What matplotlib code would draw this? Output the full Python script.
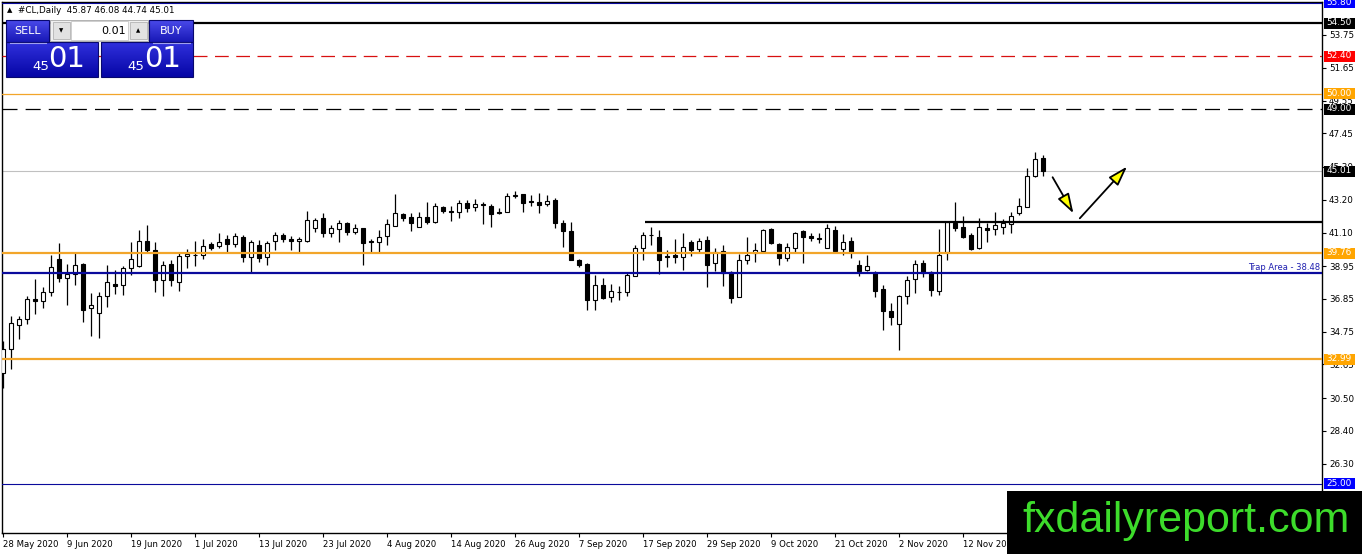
import matplotlib
matplotlib.use("Agg")
import matplotlib.pyplot as plt
import matplotlib.transforms as mtransforms
import matplotlib.colors as mcolors
from matplotlib.patches import Rectangle, FancyArrowPatch
import numpy as np

# ---------------- data ----------------
opens = [32.11, 33.65, 35.18, 35.56, 36.86, 36.71, 37.27, 39.42, 38.18, 38.46,
         39.10, 36.25, 35.95, 37.01, 37.82, 37.73, 38.82, 38.93, 40.56, 39.99,
         38.03, 39.10, 37.92, 39.58, 39.67, 39.67, 40.35, 40.25, 40.69, 40.39,
         40.80, 39.52, 40.29, 39.56, 40.56, 40.95, 40.69, 40.58, 40.58, 41.42,
         42.01, 41.05, 41.33, 41.69, 41.16, 41.37, 40.56, 40.48, 40.90, 41.54,
         42.27, 42.07, 41.44, 42.07, 41.80, 42.71, 42.50, 42.39, 43.01, 42.76,
         42.93, 42.80, 42.39, 42.44, 43.44, 43.57, 43.10, 43.05, 42.93, 43.18,
         41.73, 41.20, 39.31, 39.07, 36.75, 37.75, 36.94, 37.31, 37.27, 38.29,
         40.10, 40.97, 40.80, 39.61, 39.67, 39.56, 40.52, 40.03, 40.63, 39.14,
         39.92, 38.56, 36.94, 39.31, 39.78, 39.93, 41.33, 40.35, 39.50, 40.14,
         41.20, 40.86, 40.74, 40.14, 41.27, 40.05, 40.56, 38.99, 38.71, 38.50,
         37.50, 36.09, 35.24, 37.05, 38.12, 39.14, 38.56, 37.33, 39.88, 41.73,
         41.48, 40.95, 40.14, 41.37, 41.31, 41.48, 41.63, 42.37, 42.76, 44.74,
         45.87]
highs = [34.14, 35.77, 35.77, 37.05, 38.14, 37.58, 39.67, 40.46, 39.10, 39.82,
         39.14, 37.22, 37.27, 39.03, 38.71, 38.93, 40.50, 41.27, 41.59, 40.52,
         39.25, 39.35, 39.88, 40.03, 40.56, 40.69, 40.52, 41.05, 40.95, 41.05,
         40.95, 40.63, 40.63, 40.58, 41.16, 41.10, 40.88, 40.84, 42.48, 42.05,
         42.33, 41.59, 41.91, 41.76, 41.63, 41.42, 40.67, 41.27, 41.95, 43.57,
         42.37, 42.33, 42.39, 43.03, 43.01, 42.82, 42.80, 43.18, 43.18, 43.22,
         43.03, 42.93, 42.65, 43.61, 43.78, 43.57, 43.50, 43.65, 43.50, 43.29,
         41.90, 41.80, 39.39, 39.18, 38.39, 38.16, 37.82, 37.65, 38.50, 40.31,
         41.16, 41.44, 41.27, 39.95, 40.67, 41.05, 40.59, 40.74, 40.90, 40.10,
         40.27, 38.65, 39.71, 40.84, 40.42, 41.33, 41.42, 40.42, 40.42, 41.16,
         41.27, 41.05, 41.05, 41.63, 41.54, 40.99, 40.84, 39.35, 39.67, 38.65,
         37.75, 36.58, 37.12, 38.29, 39.35, 39.35, 38.61, 41.33, 41.84, 43.03,
         42.18, 41.05, 42.05, 41.69, 42.44, 41.97, 42.44, 43.33, 45.20, 46.23,
         46.08]
lows = [31.16, 32.37, 34.28, 35.22, 35.86, 36.29, 37.01, 37.90, 36.46, 37.76,
        35.35, 34.46, 34.35, 36.31, 37.16, 37.10, 38.37, 38.88, 39.88, 37.27,
        37.01, 37.69, 37.37, 38.82, 38.97, 39.42, 40.01, 40.10, 39.82, 40.20,
        39.24, 38.48, 39.24, 39.03, 39.99, 40.48, 39.99, 39.84, 40.52, 41.16,
        40.84, 40.84, 40.52, 40.95, 41.01, 39.03, 39.82, 39.82, 40.31, 41.54,
        41.86, 41.22, 41.44, 41.63, 41.69, 42.33, 41.86, 42.05, 42.39, 42.50,
        41.63, 41.48, 42.27, 42.39, 43.29, 42.44, 42.80, 42.33, 42.80, 41.37,
        40.20, 39.31, 38.88, 36.16, 36.16, 36.84, 36.63, 36.75, 37.01, 38.29,
        39.35, 40.31, 38.46, 38.88, 39.18, 38.71, 39.61, 39.78, 37.58, 38.61,
        37.65, 36.58, 36.94, 39.07, 39.24, 39.88, 40.35, 38.99, 39.29, 39.78,
        39.14, 40.56, 40.42, 40.10, 39.88, 39.67, 39.50, 38.29, 38.61, 36.95,
        34.88, 35.16, 33.60, 36.52, 37.22, 38.22, 37.01, 37.07, 39.35, 41.20,
        40.73, 39.99, 40.05, 40.52, 40.95, 40.99, 41.05, 42.22, 42.76, 44.67,
        44.74]
closes = [33.65, 35.31, 35.56, 36.84, 36.71, 37.31, 38.90, 38.18, 38.44, 39.03,
          36.16, 36.46, 37.05, 37.95, 37.65, 38.82, 39.40, 40.56, 39.95, 38.03,
          39.03, 38.07, 39.61, 39.71, 39.63, 40.25, 40.10, 40.52, 40.39, 40.88,
          39.52, 40.52, 39.50, 40.42, 40.95, 40.67, 40.58, 40.69, 41.91, 41.91,
          41.05, 41.37, 41.69, 41.12, 41.37, 40.42, 40.52, 40.84, 41.63, 42.33,
          42.05, 41.69, 42.12, 41.80, 42.80, 42.50, 42.42, 43.01, 42.69, 42.93,
          42.88, 42.27, 42.37, 43.44, 43.50, 43.01, 43.05, 42.86, 43.12, 41.73,
          41.22, 39.35, 39.03, 36.75, 37.73, 36.90, 37.37, 37.27, 38.35, 40.10,
          40.93, 40.93, 39.31, 39.52, 39.52, 40.20, 39.99, 40.56, 39.03, 39.88,
          38.50, 36.90, 39.35, 39.67, 39.99, 41.27, 40.42, 39.46, 40.16, 41.05,
          40.84, 40.78, 40.67, 41.42, 39.93, 40.52, 39.84, 38.65, 38.94, 37.33,
          36.05, 35.67, 37.05, 38.07, 39.07, 38.50, 37.39, 39.67, 41.80, 41.37,
          40.84, 40.05, 41.48, 41.29, 41.59, 41.69, 42.16, 42.80, 44.74, 45.80,
          45.01]

date_labels = ["28 May 2020", "9 Jun 2020", "19 Jun 2020", "1 Jul 2020",
               "13 Jul 2020", "23 Jul 2020", "4 Aug 2020", "14 Aug 2020",
               "26 Aug 2020", "7 Sep 2020", "17 Sep 2020", "29 Sep 2020",
               "9 Oct 2020", "21 Oct 2020", "2 Nov 2020", "12 Nov 2020"]
date_label_bars = [0, 8, 16, 24, 32, 40, 48, 56, 64, 72, 80, 88, 96, 104, 112, 120]

price_ticks = [53.75, 51.65, 49.55, 47.45, 45.30, 43.20, 41.10, 38.95,
               36.85, 34.75, 32.65, 30.50, 28.40, 26.30]

# horizontal levels
level_top = 55.80
level_resist_high = 54.50
level_red = 52.40
level_50 = 50.00
level_49 = 49.00
level_current = 45.01
level_resist = 41.75
level_resist_start_bar = 80.25
level_orange_mid = 39.76
level_trap = 38.48
level_orange_low = 32.99
level_bottom = 25.00

# drawn arrows (bar index, price): start1, end1, start2, end2
arrow_x = [131.2, 133.8, 134.6, 140.5]
arrow_y = [44.64, 42.33, 42.01, 45.32]

header_symbol = "#CL,Daily"
header_ohlc = [45.87, 46.08, 44.74, 45.01]
lot_size = "0.01"
bid_big, bid_small = "01", "45"
ask_big, ask_small = "01", "45"
watermark = "fxdailyreport.com"

# ---------------- figure ----------------
W, H = 1362, 554
fig = plt.figure(figsize=(W / 100, H / 100), dpi=100)
fig.patch.set_facecolor("white")
ax = fig.add_axes([2 / W, (H - 533) / H, 1320 / W, 531 / H])
ax.set_facecolor("white")
ax.set_xlim(-0.125, 164.875)
ax.set_ylim(21.86, 55.86)

n = len(opens)
xs = np.arange(n)
o = np.array(opens)
c = np.array(closes)
hi = np.array(highs)
lo = np.array(lows)
bull = c >= o
bottoms = np.minimum(o, c)
heights = np.maximum(np.abs(c - o), 0.03)

ax.vlines(xs, lo, hi, color="black", lw=0.9, zorder=3)
ax.bar(xs[bull], heights[bull], bottom=bottoms[bull], width=0.62,
       color="white", edgecolor="black", linewidth=0.8, zorder=4)
ax.bar(xs[~bull], heights[~bull], bottom=bottoms[~bull], width=0.62,
       color="black", edgecolor="black", linewidth=0.8, zorder=4)

navy = "#0a0a9c"
orange = "#f2a52a"
ax.axhline(level_top, color=navy, lw=0.8, zorder=5)
ax.axhline(level_resist_high, color="black", lw=1.6, zorder=5)
ax.axhline(level_red, color="#d81010", lw=0.9, ls=(0, (11, 6)), zorder=5)
ax.axhline(level_50, color=orange, lw=0.9, zorder=5)
ax.axhline(level_49, color="black", lw=0.9, ls=(0, (12, 6.5)), zorder=5)
ax.axhline(level_current, color="#c0c0c0", lw=0.8, zorder=2)
ax.hlines(level_resist, level_resist_start_bar, 164.875, color="black", lw=1.6, zorder=5)
ax.axhline(level_orange_mid, color=orange, lw=1.6, zorder=5)
ax.axhline(level_trap, color=navy, lw=1.6, zorder=5)
ax.axhline(level_orange_low, color=orange, lw=1.6, zorder=5)
ax.axhline(level_bottom, color=navy, lw=0.8, zorder=5)

blend = mtransforms.blended_transform_factory(ax.transAxes, ax.transData)
ax.text(0.9985, 38.83, "Trap Area - %.2f" % level_trap, transform=blend,
        ha="right", va="center", fontsize=6, color="#2020b0", zorder=6)

# arrows
for k in (0, 2):
    arr = FancyArrowPatch((arrow_x[k], arrow_y[k]), (arrow_x[k + 1], arrow_y[k + 1]),
                          arrowstyle="-|>,head_length=1.0,head_width=0.32",
                          mutation_scale=12, lw=1.3, edgecolor="black",
                          facecolor="#ffff00", zorder=8, shrinkA=0, shrinkB=0)
    ax.add_patch(arr)

# axes styling
for sp in ax.spines.values():
    sp.set_color("black")
    sp.set_linewidth(1.0)
ax.yaxis.tick_right()
ax.set_yticks(price_ticks)
ax.set_yticklabels(["%.2f" % v for v in price_ticks], fontsize=6.3)
ax.tick_params(axis="y", direction="out", length=3, width=0.8, pad=2, colors="black")
ax.set_xticks(date_label_bars)
ax.set_xticklabels(date_labels, fontsize=6.1, ha="left")
ax.tick_params(axis="x", direction="out", length=3, width=0.8, pad=2)

# price boxes on right axis
bw = 31 / 1320
bh = 11 * 0.06403
box_specs = [(level_top, "#0000ff"), (level_resist_high, "black"),
             (level_red, "#ff0000"), (level_50, "#ffa500"), (level_49, "black"),
             (level_current, "black"), (level_orange_mid, "#ffa500"),
             (level_orange_low, "#ffa500"), (level_bottom, "#0000ff")]
for val, fc in box_specs:
    ax.add_patch(Rectangle((1 + 1.5 / 1320, val - bh / 2), bw, bh, transform=blend,
                           clip_on=False, facecolor=fc, edgecolor="none", zorder=6))
    ax.text(1 + 17 / 1320, val + 0.03, "%.2f" % val, transform=blend, ha="center",
            va="center", color="white", fontsize=6.4, zorder=7, clip_on=False)

# ---------------- overlay (terminal widgets, watermark) ----------------
ov = fig.add_axes([0, 0, 1, 1], zorder=10)
ov.axis("off")


def grad(x0, y0, x1, y1, top, bot, z=11):
    t = np.linspace(0, 1, 32)[:, None, None]
    ct = np.array(mcolors.to_rgb(top))[None, None, :]
    cb = np.array(mcolors.to_rgb(bot))[None, None, :]
    img = ct * (1 - t) + cb * t
    ov.imshow(img, extent=(x0, x1, y1, y0), aspect="auto", origin="upper",
              zorder=z, interpolation="bilinear")
    ov.add_patch(Rectangle((x0, y0), x1 - x0, y1 - y0, fill=False,
                           edgecolor="#08086e", lw=0.8, zorder=z + 0.5))


# header
ov.text(7, 10.5, "\u25b2", fontsize=5, va="center", ha="left", color="black", zorder=12)
ov.text(18, 10.5, header_symbol + "  " + " ".join("%.2f" % v for v in header_ohlc),
        fontsize=6.3, va="center", ha="left", color="black", zorder=12)

# buttons
grad(6, 20, 49, 42, "#4a4aea", "#1818b6")
grad(149, 20, 193, 42, "#4a4aea", "#1818b6")
ov.add_patch(Rectangle((50, 20), 98, 21, facecolor="#f0f0f0", edgecolor="#a8a8a8", lw=0.6, zorder=11))
ov.add_patch(Rectangle((53, 22), 17, 17, facecolor="#e2e2e2", edgecolor="#b4b4b4", lw=0.6, zorder=11.5))
ov.add_patch(Rectangle((71, 21), 57, 19, facecolor="white", edgecolor="#c8c8c8", lw=0.6, zorder=11.5))
ov.add_patch(Rectangle((130, 22), 17, 17, facecolor="#e2e2e2", edgecolor="#b4b4b4", lw=0.6, zorder=11.5))
ov.text(61.5, 31, "\u25bc", fontsize=4, ha="center", va="center", color="black", zorder=12)
ov.text(138.5, 31, "\u25b2", fontsize=4, ha="center", va="center", color="black", zorder=12)
ov.text(126, 31, lot_size, fontsize=8, ha="right", va="center", color="black", zorder=12)
ov.text(27.5, 31, "SELL", fontsize=8, ha="center", va="center", color="white", zorder=12)
ov.text(171, 31, "BUY", fontsize=8, ha="center", va="center", color="white", zorder=12)

grad(6, 42, 98, 77, "#3030dc", "#0606a6")
grad(101, 42, 193, 77, "#3030dc", "#0606a6")
ov.plot([10, 46], [42.5, 42.5], color="#a0a0ee", lw=0.8, zorder=12)
ov.plot([153, 190], [42.5, 42.5], color="#a0a0ee", lw=0.8, zorder=12)
ov.text(40.5, 66, bid_small, fontsize=9.5, ha="center", va="center", color="white", zorder=12)
ov.text(67, 59, bid_big, fontsize=21, ha="center", va="center", color="white", zorder=12)
ov.text(136, 66, ask_small, fontsize=9.5, ha="center", va="center", color="white", zorder=12)
ov.text(163, 59, ask_big, fontsize=21, ha="center", va="center", color="white", zorder=12)

# watermark
ov.add_patch(Rectangle((1007, 491), 355, 63, facecolor="black", edgecolor="none", zorder=20))
ov.text(1186, 521, watermark, color="#3ddc2b", fontsize=31, family="Liberation Sans",
        ha="center", va="center", zorder=21)

ov.set_xlim(0, W)
ov.set_ylim(H, 0)

fig.savefig("out.png", dpi=100, facecolor="white")
